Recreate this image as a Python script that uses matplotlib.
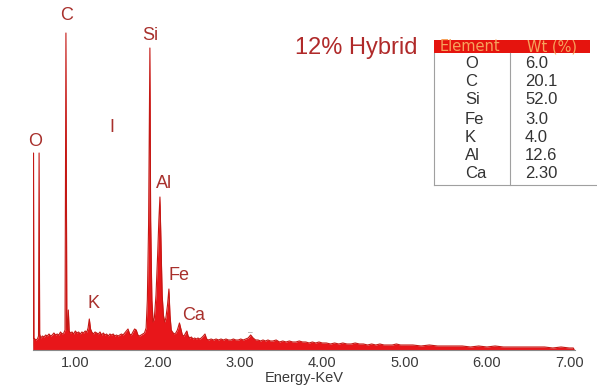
import matplotlib.pyplot as plt
from matplotlib.patches import Rectangle
from matplotlib.lines import Line2D

# EDX spectrum, energy (keV) vs counts
energy = [0.486, 0.488, 0.492, 0.497, 0.52, 0.54, 0.553, 0.560, 0.567,
          0.58, 0.60, 0.62, 0.64, 0.66, 0.68, 0.70, 0.72, 0.74, 0.76, 0.78, 0.80, 0.82, 0.84, 0.86,
          0.875, 0.886, 0.897, 0.905, 0.915, 0.925,
          0.94, 0.96, 0.98, 1.00, 1.02, 1.04, 1.06, 1.08, 1.10, 1.12, 1.14,
          1.155, 1.170, 1.185,
          1.20, 1.22, 1.24, 1.26, 1.28, 1.30, 1.32, 1.34, 1.36, 1.38, 1.40, 1.42, 1.44, 1.46, 1.48,
          1.50, 1.52, 1.54, 1.56, 1.58, 1.60, 1.62, 1.64, 1.66, 1.68, 1.70, 1.72, 1.74, 1.76, 1.78,
          1.80, 1.82, 1.84,
          1.86, 1.875, 1.89, 1.906, 1.915, 1.93, 1.945,
          1.96, 1.98, 2.00, 2.015, 2.028, 2.04, 2.055, 2.07, 2.085,
          2.10, 2.12, 2.137, 2.15, 2.165,
          2.18, 2.20, 2.22,
          2.24, 2.265, 2.28, 2.30, 2.32, 2.34, 2.355, 2.37, 2.39, 2.41, 2.43, 2.45, 2.47, 2.49,
          2.51, 2.53, 2.555, 2.575, 2.595, 2.62, 2.65, 2.68, 2.71, 2.74, 2.77, 2.80, 2.83, 2.86,
          2.89, 2.92, 2.95, 2.98, 3.01, 3.04, 3.07, 3.10, 3.13, 3.16, 3.19, 3.22, 3.25, 3.28,
          3.31, 3.34, 3.37, 3.40, 3.44, 3.48, 3.52, 3.56, 3.60, 3.64, 3.68, 3.72, 3.76, 3.80,
          3.84, 3.88, 3.92, 3.96, 4.00, 4.05, 4.10, 4.15, 4.20, 4.25, 4.30, 4.35, 4.40, 4.45,
          4.50, 4.55, 4.60, 4.65, 4.70, 4.75, 4.80, 4.85, 4.90, 4.95, 5.00, 5.10, 5.20, 5.30,
          5.40, 5.50, 5.60, 5.70, 5.80, 5.90, 6.00, 6.10, 6.20, 6.30, 6.40, 6.50, 6.60, 6.70,
          6.80, 6.90, 7.00, 7.05, 7.06]
counts = [0, 5, 197, 12, 10, 11, 14, 197, 16,
          12, 14, 13, 15, 14, 16, 14, 15, 17, 15, 16, 15, 18, 16, 17,
          20, 317, 24, 20, 40, 19,
          17, 18, 16, 19, 17, 18, 16, 18, 17, 19, 18,
          22, 31, 21,
          18, 16, 18, 17, 16, 18, 15, 17, 15, 16, 14, 16, 15, 16, 14,
          15, 14, 15, 16, 15, 17, 19, 21, 16, 15, 18, 21, 20, 15, 14,
          15, 16, 17,
          22, 50, 125, 302, 130, 50, 28,
          32, 55, 95, 130, 153, 110, 55, 35, 28,
          32, 45, 61, 35, 20,
          18, 16, 17,
          20, 27, 22, 15, 14, 17, 19, 14, 12, 13, 11, 12, 11, 12,
          11, 12, 14, 16, 11, 10, 11, 10, 11, 10, 11, 10, 11, 10,
          10, 11, 10, 10, 11, 10, 11, 12, 15, 12, 10, 10, 9, 10,
          9, 10, 9, 9, 10, 8, 9, 8, 9, 8, 8, 9, 8, 8,
          7, 8, 7, 8, 7, 7, 6, 7, 6, 7, 6, 6, 7, 6,
          6, 5, 6, 5, 6, 5, 5, 5, 6, 5, 5, 5, 4, 5,
          4, 4, 4, 4, 3, 4, 3, 4, 3, 3, 3, 3, 3, 3,
          2, 3, 2, 2, 0]

# peak labels (energy, counts where the label sits)
peak_names = ["O", "C", "I", "Si", "Al", "K", "Fe", "Ca"]
peak_e = [0.51, 0.89, 1.44, 1.91, 2.08, 1.22, 2.26, 2.44]
peak_c = [208, 334, 222, 314, 167, 46, 74, 34]

# composition table
elements = ["O", "C", "Si", "Fe", "K", "Al", "Ca"]
wt_pct = ["6.0", "20.1", "52.0", "3.0", "4.0", "12.6", "2.30"]

W, H = 597, 385
fig = plt.figure(figsize=(W / 100, H / 100), dpi=100)
plt.rcParams['font.family'] = ['Liberation Sans', 'DejaVu Sans']

def fx(px):
    return px / W

def fy(py):
    return 1 - py / H

ax = fig.add_axes([fx(33), fy(350), fx(575) - fx(33), fy(10) - fy(350)])
ax.fill_between(energy, counts, 0, color="#e8161a", lw=0)
ax.plot(energy, counts, color="#c41814", lw=0.8)
ax.set_xlim(0.486, 7.07)
ax.set_ylim(0, 340)

for s in ["top", "right", "left"]:
    ax.spines[s].set_visible(False)
ax.spines["bottom"].set_color("#8a8a8a")
ax.spines["bottom"].set_linewidth(0.8)
ax.set_yticks([])
ax.set_xticks([1, 2, 3, 4, 5, 6, 7])
ax.set_xticklabels(["1.00", "2.00", "3.00", "4.00", "5.00", "6.00", "7.00"])
ax.tick_params(axis="x", length=0, pad=4, labelsize=10.5, labelcolor="#3a3a3a")
ax.set_xlabel("Energy-KeV", fontsize=10.5, color="#3a3a3a", labelpad=1)

for name, e, c in zip(peak_names, peak_e, peak_c):
    ax.text(e, c, name, ha="center", va="center", fontsize=13, color="#a8302c")

# small dash near 3.13 keV
ax.text(3.13, 17, "\u2013", ha="center", va="center", fontsize=6, color="#777777")

fig.text(fx(295), fy(48), "12% Hybrid", ha="left", va="center", fontsize=17, color="#b02a2a")

# table header
fig.add_artist(Rectangle((fx(434), fy(53)), fx(590) - fx(434), fy(40) - fy(53),
                         transform=fig.transFigure, color="#e5140e", lw=0))
fig.text(fx(470), fy(46.5), "Element", ha="center", va="center", fontsize=10.5,
         color="#f6a25c", family="DejaVu Sans")
fig.text(fx(552), fy(46.5), "Wt (%)", ha="center", va="center", fontsize=10.5,
         color="#f6a25c", family="DejaVu Sans")

# table lines
for x0 in [434, 510]:
    fig.add_artist(Line2D([fx(x0), fx(x0)], [fy(53), fy(185)], transform=fig.transFigure,
                          color="#a0a0a0", lw=0.8))
fig.add_artist(Line2D([fx(434), fx(597)], [fy(185), fy(185)], transform=fig.transFigure,
                      color="#a0a0a0", lw=0.8))

row_y = [64, 82, 100, 119, 137, 155, 174]
for el, wt, ry in zip(elements, wt_pct, row_y):
    fig.text(fx(465), fy(ry), el, ha="left", va="center", fontsize=12, color="#333333")
    fig.text(fx(525), fy(ry), wt, ha="left", va="center", fontsize=12, color="#333333")

fig.savefig("out.png", dpi=100)
